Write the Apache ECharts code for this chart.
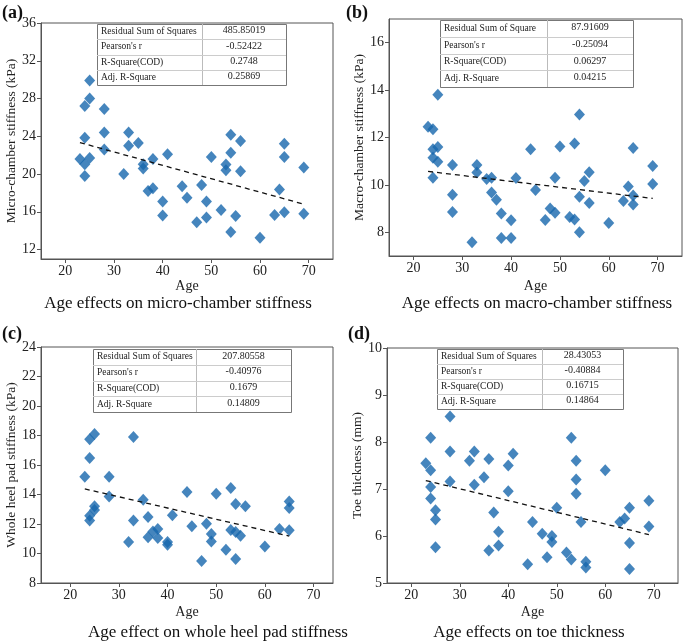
<!DOCTYPE html>
<html><head><meta charset="utf-8">
<script src="https://cdn.jsdelivr.net/npm/echarts@6/dist/echarts.min.js"></script>
<style>html,body{margin:0;padding:0;background:#fff}#c{width:685px;height:643px}</style>
</head><body><div id="c"></div>
<script>
// ---- data ----
const ageABD = [23,24,24,24,24,25,25,25,28,28,28,32,33,33,35,36,36,37,38,38,40,40,41,44,45,47,48,49,49,50,52,53,53,54,54,54,55,56,56,60,63,64,65,65,65,69,69];
const microA = [21.6,27.2,23.85,21.05,19.8,29.9,28.0,21.7,26.9,24.4,22.6,20.0,24.4,23.0,23.3,21.05,20.6,18.2,21.6,18.5,17.1,15.6,22.1,18.7,17.5,14.9,18.85,17.1,15.4,21.8,16.2,21.0,20.4,24.15,22.25,13.85,15.55,23.5,20.3,13.25,15.65,18.35,23.2,21.8,15.95,20.7,15.8];
const macroB = [12.45,12.35,11.5,11.15,10.3,13.8,11.6,10.98,10.84,9.58,8.86,7.58,10.84,10.52,10.25,10.3,9.68,9.37,8.79,7.76,8.51,7.76,10.29,11.5,9.78,8.52,9.0,10.3,8.82,11.62,8.65,11.75,8.54,12.97,9.5,8.0,10.16,10.53,9.24,8.39,9.32,9.93,11.56,9.55,9.17,10.8,10.04];
const ageC = [23,24,24,24,24,25,25,25,28,28,32,33,33,35,36,36,37,38,38,40,40,41,44,45,47,48,49,49,50,52,53,53,54,54,54,55,56,60,63,65,65,65];
const heelC = [15.2,17.75,16.47,12.56,12.24,18.1,13.2,12.95,15.2,13.87,10.78,17.9,12.24,13.65,12.47,11.1,11.5,11.66,11.05,10.78,10.6,12.6,14.17,11.84,9.5,12.02,11.32,10.82,14.05,10.25,14.44,11.6,13.36,11.45,9.63,11.2,13.2,10.48,11.66,13.53,13.08,11.57];
const toeD = [7.55,8.09,7.4,7.04,6.8,6.55,6.35,5.76,8.54,7.8,7.16,7.6,7.8,7.09,7.25,7.64,5.69,6.5,6.09,5.8,7.5,6.95,7.75,5.4,6.3,6.05,5.55,6.0,5.87,6.6,5.65,8.09,5.5,7.6,7.2,6.9,6.3,5.45,5.33,7.4,6.3,6.37,6.6,5.85,5.3,6.75,6.2];

const trendA = [[23,23.33],[69,16.81]];
const trendB = [[23,10.57],[69,9.43]];
const trendC = [[23,14.38],[65,11.18]];
const trendD = [[23,7.18],[69,6.03]];

const xTicks = [20,30,40,50,60,70];
const yTicksA = [12,16,20,24,28,32,36];
const yTicksB = [8,10,12,14,16];
const yTicksC = [8,10,12,14,16,18,20,22,24];
const yTicksD = [5,6,7,8,9,10];

const statLabelsA = ['Residual Sum of Squares',"Pearson's r",'R-Square(COD)','Adj. R-Square'];
const statValuesA = ['485.85019','-0.52422','0.2748','0.25869'];
const statLabelsB = ['Residual Sum of Square',"Pearson's r",'R-Square(COD)','Adj. R-Square'];
const statValuesB = ['87.91609','-0.25094','0.06297','0.04215'];
const statLabelsC = ['Residual Sum of Squares',"Pearson's r",'R-Square(COD)','Adj. R-Square'];
const statValuesC = ['207.80558','-0.40976','0.1679','0.14809'];
const statLabelsD = ['Residual Sum of Squares',"Pearson's r",'R-Square(COD)','Adj. R-Square'];
const statValuesD = ['28.43053','-0.40884','0.16715','0.14864'];

const titles = ['Age effects on micro-chamber stiffness','Age effects on macro-chamber stiffness','Age effect on whole heel pad stiffness','Age effects on toe thickness'];
const letters = ['(a)','(b)','(c)','(d)'];
const yNames = ['Micro-chamber stiffness (kPa)','Macro-chamber stiffness (kPa)','Whole heel pad stiffness (kPa)','Toe thickness (mm)'];

// ---- styling / layout ----
const SERIF = '"Liberation Serif","Times New Roman",serif';
const BLUE = '#1766ad';
const AX = '#555';
function zip(xs, ys){ return xs.map((x,i)=>[x, ys[i]]); }

const panels = [
  {grid:{left:41,top:23,width:292,height:236}, x:[15,75], y:[11,36], yTicks:yTicksA, yGap:22, xGap:20,
   data:zip(ageABD, microA), trend:trendA, letterPos:[2,13], titlePos:[178,304],
   table:{x:97,y:24,w:189,h:61,div:202,labels:statLabelsA,values:statValuesA}},
  {grid:{left:389,top:19,width:293,height:237}, x:[15,75], y:[7,17], yTicks:yTicksB, yGap:23, xGap:23,
   data:zip(ageABD, macroB), trend:trendB, letterPos:[346,13], titlePos:[537,304],
   table:{x:440,y:20,w:193,h:67,div:547,labels:statLabelsB,values:statValuesB}},
  {grid:{left:41,top:347,width:292,height:236}, x:[14,74], y:[8,24], yTicks:yTicksC, yGap:19, xGap:22,
   data:zip(ageC, heelC), trend:trendC, letterPos:[2,334], titlePos:[218,633],
   table:{x:93,y:349,w:198,h:63,div:196,labels:statLabelsC,values:statValuesC}},
  {grid:{left:387,top:348,width:291,height:235}, x:[15,75], y:[5,10], yTicks:yTicksD, yGap:15, xGap:22,
   data:zip(ageABD, toeD), trend:trendD, letterPos:[348,334], titlePos:[529,633],
   table:{x:437,y:349,w:186,h:60,div:542,labels:statLabelsD,values:statValuesD}}
];

const grids = [], xAxes = [], yAxes = [], series = [], graphics = [];
panels.forEach((p, i) => {
  grids.push(Object.assign({show:true, borderColor:AX, borderWidth:1, backgroundColor:'transparent'}, p.grid));
  xAxes.push({gridIndex:i, type:'value', min:p.x[0], max:p.x[1],
    axisLine:{show:true, onZero:false, lineStyle:{color:AX}},
    axisTick:{show:true, inside:false, length:4, customValues:xTicks, lineStyle:{color:AX}},
    axisLabel:{customValues:xTicks, fontFamily:SERIF, fontSize:14, color:'#222', margin:5},
    splitLine:{show:false},
    name:'Age', nameLocation:'middle', nameGap:p.xGap,
    nameTextStyle:{fontFamily:SERIF, fontSize:14, color:'#222'}});
  yAxes.push({gridIndex:i, type:'value', min:p.y[0], max:p.y[1],
    axisLine:{show:true, onZero:false, lineStyle:{color:AX}},
    axisTick:{show:true, inside:false, length:4, customValues:p.yTicks, lineStyle:{color:AX}},
    axisLabel:{customValues:p.yTicks, fontFamily:SERIF, fontSize:14, color:'#222', margin:5},
    splitLine:{show:false},
    name:yNames[i], nameLocation:'middle', nameGap:p.yGap,
    nameTextStyle:{fontFamily:SERIF, fontSize:13.5, color:'#222'}});
  series.push({type:'scatter', xAxisIndex:i, yAxisIndex:i, data:p.data, symbol:'diamond', symbolSize:[11,12],
    itemStyle:{color:BLUE}, z:2});
  series.push({type:'line', xAxisIndex:i, yAxisIndex:i, data:p.trend, showSymbol:false, silent:true,
    lineStyle:{color:'#111', width:1.3, type:[5,4]}, z:3});

  // panel letter and subtitle
  graphics.push({type:'text', x:p.letterPos[0], y:p.letterPos[1],
    style:{text:letters[i], font:'bold 18px '+SERIF, fill:'#111', textVerticalAlign:'middle', verticalAlign:'middle'}});
  graphics.push({type:'text', x:p.titlePos[0], y:p.titlePos[1],
    style:{text:titles[i], font:'17px '+SERIF, fill:'#111', textAlign:'center', align:'center', textVerticalAlign:'middle', verticalAlign:'middle'}});

  // stats table
  const t = p.table, rh = t.h / 4;
  graphics.push({type:'rect', shape:{x:t.x+0.5, y:t.y+0.5, width:t.w, height:t.h}, style:{fill:'#fff', stroke:'#777', lineWidth:1}, z:10});
  graphics.push({type:'line', shape:{x1:t.div+0.5, y1:t.y, x2:t.div+0.5, y2:t.y+t.h}, style:{stroke:'#bbb', lineWidth:1}, z:11});
  for (let r = 1; r < 4; r++) {
    const yy = Math.round(t.y + r*rh) + 0.5;
    graphics.push({type:'line', shape:{x1:t.x, y1:yy, x2:t.x+t.w, y2:yy}, style:{stroke:'#ccc', lineWidth:1}, z:11});
  }
  for (let r = 0; r < 4; r++) {
    const cy = t.y + (r+0.5)*rh;
    graphics.push({type:'text', x:t.x+4, y:cy, z:12,
      style:{text:t.labels[r], font:'9.5px '+SERIF, fill:'#222', textVerticalAlign:'middle', verticalAlign:'middle'}});
    graphics.push({type:'text', x:(t.div + t.x + t.w)/2, y:cy - 1, z:12,
      style:{text:t.values[r], font:'10px '+SERIF, fill:'#222', textAlign:'center', align:'center', textVerticalAlign:'middle', verticalAlign:'middle'}});
  }
});

const chart = echarts.init(document.getElementById('c'), null, {renderer:'canvas'});
chart.setOption({
  animation:false,
  backgroundColor:'#fff',
  grid:grids, xAxis:xAxes, yAxis:yAxes, series:series,
  graphic:{elements:graphics}
});
</script></body></html>
